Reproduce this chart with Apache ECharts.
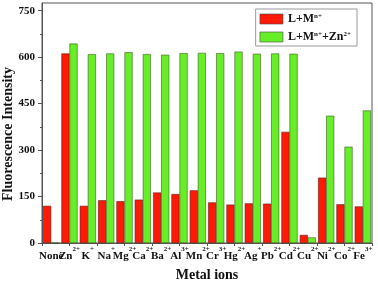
<!DOCTYPE html>
<html>
<head>
<meta charset="utf-8">
<script src="https://cdn.jsdelivr.net/npm/echarts@6/dist/echarts.min.js"></script>
<style>
html, body { margin: 0; padding: 0; background: #fff; }
#main { width: 378px; height: 283px; }
</style>
</head>
<body>
<div id="main"></div>
<script>
// metal ions: symbol and charge
var ionNames = ['None', 'Zn', 'K', 'Na', 'Mg', 'Ca', 'Ba', 'Al', 'Mn', 'Cr', 'Hg', 'Ag', 'Pb', 'Cd', 'Cu', 'Ni', 'Co', 'Fe'];
var ionCharges = ['', '2+', '+', '+', '2+', '2+', '2+', '3+', '2+', '3+', '2+', '+', '2+', '2+', '2+', '2+', '2+', '3+'];
var lmValues = [120, 612, 120, 138, 135, 140, 163, 158, 170, 131, 124, 128, 127, 359, 26, 211, 125, 118];
var lmZnValues = [0, 644, 610, 612, 616, 610, 608, 613, 614, 613, 618, 611, 612, 611, 18, 411, 311, 428];
var yTicks = [0, 150, 300, 450, 600, 750];
var yMinorTicks = [75, 225, 375, 525, 675];

var serif = "'Liberation Serif', 'DejaVu Serif', serif";
var myChart = echarts.init(document.getElementById('main'));

// half-category ticks under the x axis
var halfCats = [];
for (var i = 0; i < ionNames.length * 2; i++) halfCats.push('h' + i);

var option = {
    animation: false,
    backgroundColor: '#fff',
    grid: {
        left: 42, right: 6, top: 3, bottom: 40,
        outerBoundsMode: 'none',
        containLabel: false,
        show: true, borderColor: '#555', borderWidth: 1
    },
    legend: {
        orient: 'vertical',
        right: 21, top: 9,
        icon: 'rect',
        itemWidth: 23, itemHeight: 10, itemGap: 6,
        borderColor: '#999', borderWidth: 1,
        padding: [4, 6, 3, 4],
        formatter: function (name) {
            return name === 'a' ? '{b|L+M}{s|n+}' : '{b|L+M}{s|n+}{b|+Zn}{s|2+}';
        },
        textStyle: {
            rich: {
                b: { fontFamily: serif, fontWeight: 'bold', fontSize: 12, color: '#111' },
                s: { fontFamily: serif, fontWeight: 'bold', fontSize: 7, color: '#111', verticalAlign: 'top', lineHeight: 12 }
            }
        },
        itemStyle: { borderColor: '#444', borderWidth: 0.6 },
        data: ['a', 'b']
    },
    xAxis: [{
        type: 'category',
        data: ionNames,
        name: 'Metal ions',
        nameLocation: 'middle',
        nameGap: 25,
        nameMoveOverlap: false,
        nameTextStyle: { fontFamily: serif, fontWeight: 'bold', fontSize: 14, color: '#111' },
        axisLine: { lineStyle: { color: '#555' } },
        axisTick: { show: false },
        axisLabel: {
            interval: 0,
            hideOverlap: false,
            margin: 3,
            formatter: function (v, idx) {
                var c = ionCharges[idx];
                return c ? '{b|' + v + '}{s|' + c + '}' : '{b|' + v + '}';
            },
            rich: {
                b: { fontFamily: serif, fontWeight: 'bold', fontSize: 11, color: '#111', lineHeight: 16, verticalAlign: 'bottom' },
                s: { fontFamily: serif, fontWeight: 'bold', fontSize: 7, color: '#111', lineHeight: 16, verticalAlign: 'top' }
            }
        }
    }, {
        type: 'category',
        data: halfCats,
        position: 'bottom',
        gridIndex: 0,
        axisLine: { show: false },
        axisLabel: { show: false },
        axisTick: { show: true, length: 3, lineStyle: { color: '#555' } }
    }],
    yAxis: [{
        type: 'value',
        min: 0, max: 775,
        name: 'Fluorescence Intensity',
        nameLocation: 'middle',
        nameGap: 27,
        nameMoveOverlap: false,
        nameTextStyle: { fontFamily: serif, fontWeight: 'bold', fontSize: 14, color: '#111', padding: [0, 22, 0, 0] },
        axisLine: { show: true, lineStyle: { color: '#555' } },
        axisTick: { show: true, length: 4, customValues: yTicks, lineStyle: { color: '#555' } },
        axisLabel: { customValues: yTicks, fontFamily: serif, fontWeight: 'bold', fontSize: 11, color: '#111', margin: 7 },
        splitLine: { show: false }
    }, {
        type: 'value',
        min: 0, max: 775,
        position: 'left',
        axisLine: { show: false },
        axisTick: { show: true, length: 2, customValues: yMinorTicks, lineStyle: { color: '#555' } },
        axisLabel: { show: false },
        splitLine: { show: false }
    }],
    series: [{
        name: 'a',
        type: 'bar',
        data: lmValues,
        barCategoryGap: '12%',
        barGap: '0%',
        itemStyle: { color: '#ff1a08', borderColor: '#5a1a10', borderWidth: 0.6 }
    }, {
        name: 'b',
        type: 'bar',
        data: lmZnValues,
        barCategoryGap: '12%',
        barGap: '0%',
        itemStyle: { color: '#68ee28', borderColor: '#3a5a20', borderWidth: 0.6 }
    }]
};
myChart.setOption(option);
</script>
</body>
</html>
